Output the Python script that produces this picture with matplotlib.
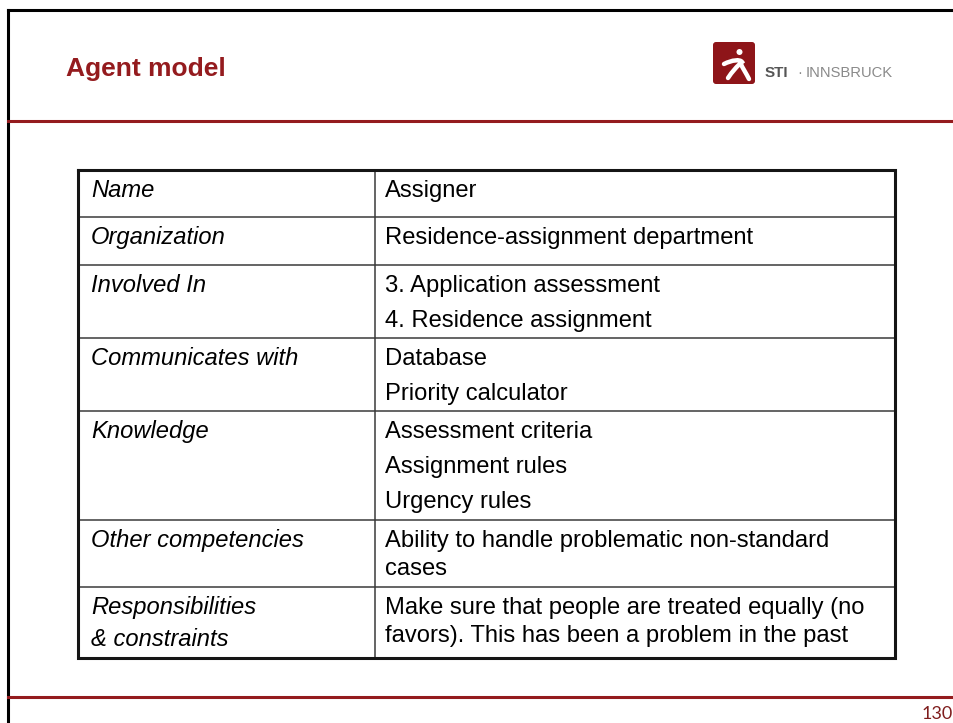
import matplotlib
matplotlib.use("Agg")
import matplotlib.pyplot as plt
from matplotlib.patches import FancyBboxPatch, Circle
from matplotlib.path import Path
from matplotlib.patches import PathPatch

# ---- data ----
title = "Agent model"
labels = ["Name", "Organization", "Involved In", "Communicates with",
          "Knowledge", "Other competencies", "Responsibilities\n& constraints"]
values = [
    ["Assigner"],
    ["Residence-assignment department"],
    ["3. Application assessment", "4. Residence assignment"],
    ["Database", "Priority calculator"],
    ["Assessment criteria", "Assignment rules", "Urgency rules"],
    ["Ability to handle problematic non-standard\ncases"],
    ["Make sure that people are treated equally (no\nfavors). This has been a problem in the past"],
]
logo_bold = "STI"
logo_rest = "INNSBRUCK"
page_number = "130"

# ---- layout / style ----
RED = "#941B1E"
FONT = "Liberation Sans"
W, H = 954, 723
row_edges = [170, 217, 265, 338, 411, 520, 587, 658]
x_left, x_mid, x_right = 78, 375, 895
first_base = 27
para_gap = 35
wrap_gap = 28
label_wrap_gap = 32
fs = 17.1

fig = plt.figure(figsize=(W / 100, H / 100), dpi=100)
ax = fig.add_axes([0, 0, 1, 1])
ax.set_xlim(0, W)
ax.set_ylim(H, 0)
ax.axis("off")

# slide frame
ax.plot([8, 8], [10, H], color="black", lw=2.2, solid_capstyle="projecting")
ax.plot([8, W], [10, 10], color="black", lw=2.2, solid_capstyle="projecting")
ax.plot([8, W], [121, 121], color=RED, lw=2.2)
ax.plot([8, W], [697, 697], color=RED, lw=2.2)

# title
ax.text(66, 76, title, fontsize=19, fontweight="bold", color=RED,
        family=FONT, ha="left", va="baseline")

# logo
ax.add_patch(FancyBboxPatch((713, 42), 42, 42, boxstyle="round,pad=0,rounding_size=3",
                            fc="#8E1519", ec="none"))
ax.add_patch(Circle((739.5, 52), 3.0, fc="white", ec="none"))
verts = [(724, 64), (732, 60), (740, 59), (742, 62),
         (737, 66), (732, 72), (728, 78)]
codes = [Path.MOVETO, Path.CURVE4, Path.CURVE4, Path.CURVE4,
         Path.CURVE4, Path.CURVE4, Path.CURVE4]
ax.add_patch(PathPatch(Path(verts, codes), fc="none", ec="white", lw=3.2, capstyle="round"))
verts2 = [(740, 62), (743, 69), (746, 73), (749, 79)]
codes2 = [Path.MOVETO, Path.CURVE4, Path.CURVE4, Path.CURVE4]
ax.add_patch(PathPatch(Path(verts2, codes2), fc="none", ec="white", lw=3.2, capstyle="round"))
ax.text(765, 77, logo_bold, fontsize=11, fontweight="bold", color="#555555",
        family=FONT, ha="left", va="baseline")
ax.text(797, 77, "\u00b7", fontsize=10.5, color="#8a8a8a", family=FONT, ha="left", va="baseline")
ax.text(806, 77, logo_rest, fontsize=10.6, color="#8a8a8a", family=FONT, ha="left", va="baseline")

# page number
ax.text(953, 719, page_number, fontsize=13, color="#7F1D1D", family="Lato",
        ha="right", va="baseline")

# table grid
inner = dict(color="#3a3a3a", lw=1.1)
for y in row_edges[1:-1]:
    ax.plot([x_left, x_right], [y, y], **inner)
ax.plot([x_mid, x_mid], [row_edges[0], row_edges[-1]], **inner)
ax.plot([x_left, x_right, x_right, x_left, x_left],
        [row_edges[0], row_edges[0], row_edges[-1], row_edges[-1], row_edges[0]],
        color="#151515", lw=2.2, solid_joinstyle="miter")

# table text
for i, (lab, vals) in enumerate(zip(labels, values)):
    top = row_edges[i]
    for k, line in enumerate(lab.split("\n")):
        ax.text(91, top + first_base + k * label_wrap_gap, line, fontsize=fs,
                style="italic", family=FONT, color="black", ha="left", va="baseline")
    yb = top + first_base
    for para in vals:
        lines = para.split("\n")
        for k, line in enumerate(lines):
            ax.text(385, yb + k * wrap_gap, line, fontsize=fs, family=FONT,
                    color="black", ha="left", va="baseline")
        yb += para_gap + (len(lines) - 1) * wrap_gap

fig.savefig("out.png", dpi=100)
